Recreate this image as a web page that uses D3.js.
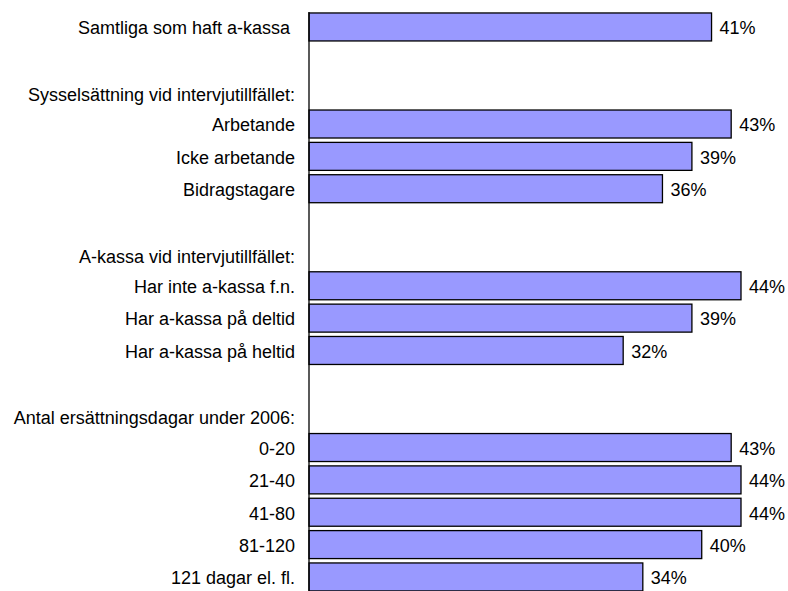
<!DOCTYPE html>
<html>
<head>
<meta charset="utf-8">
<script src="https://cdn.jsdelivr.net/npm/d3@7"></script>
<style>
  body { margin: 0; background: #ffffff; }
  svg text { font-family: "Liberation Sans", Arial, Helvetica, sans-serif; font-size: 18px; fill: #000000; }
</style>
</head>
<body>
<div id="chart"></div>
<script>
"use strict";

// rows from top to bottom; empty strings are spacer rows, headers carry no value
const labels = [
  "Samtliga som haft a-kassa\u00a0",
  "",
  "Sysselsättning vid intervjutillfället:",
  "Arbetande",
  "Icke arbetande",
  "Bidragstagare",
  "",
  "A-kassa vid intervjutillfället:",
  "Har inte a-kassa f.n.",
  "Har a-kassa på deltid",
  "Har a-kassa på heltid",
  "",
  "Antal ersättningsdagar under 2006:",
  "0-20",
  "21-40",
  "41-80",
  "81-120",
  "121 dagar el. fl."
];
const values = [41, null, null, 43, 39, 36, null, null, 44, 39, 32, null, null, 43, 44, 44, 40, 34];

const width = 788;
const height = 591;
const axis_x = 309;

const svg = d3.select("#chart")
    .append("svg")
    .attr("width", width)
    .attr("height", height);

const y = d3.scaleBand()
    .domain(d3.range(labels.length))
    .range([8.6, 595.3])
    .padding(0.135);

const x = d3.scaleLinear()
    .domain([0, 44])
    .range([axis_x, 741]);

const rows = labels.map(function(l, i) { return {label: l, value: values[i], i: i}; });
const bars = rows.filter(function(d) { return d.value !== null; });

svg.selectAll(".bar")
    .data(bars)
    .enter()
    .append("rect")
    .attr("class", "bar")
    .attr("x", x(0))
    .attr("y", function(d) { return y(d.i); })
    .attr("width", function(d) { return x(d.value) - x(0); })
    .attr("height", y.bandwidth())
    .style("fill", "#9999ff")
    .style("stroke", "#000000")
    .style("stroke-width", 1.3);

// category axis line
svg.append("line")
    .attr("x1", axis_x)
    .attr("x2", axis_x)
    .attr("y1", y(0) - 1)
    .attr("y2", height)
    .style("stroke", "#000000")
    .style("stroke-width", 1.3);

svg.selectAll(".cat-label")
    .data(rows.filter(function(d) { return d.label !== ""; }))
    .enter()
    .append("text")
    .attr("class", "cat-label")
    .attr("x", axis_x - 14)
    .attr("y", function(d) {
      // group headers sit a little lower in their row
      const shift = d.label.endsWith(":") ? 3 : 1;
      return y(d.i) + y.bandwidth() / 2 + shift;
    })
    .attr("dy", "0.35em")
    .style("text-anchor", "end")
    .style("white-space", "pre")
    .text(function(d) { return d.label; });

svg.selectAll(".value-label")
    .data(bars)
    .enter()
    .append("text")
    .attr("class", "value-label")
    .attr("x", function(d) { return x(d.value) + 8; })
    .attr("y", function(d) { return y(d.i) + y.bandwidth() / 2 + 1; })
    .attr("dy", "0.35em")
    .text(function(d) { return d.value + "%"; });
</script>
</body>
</html>
